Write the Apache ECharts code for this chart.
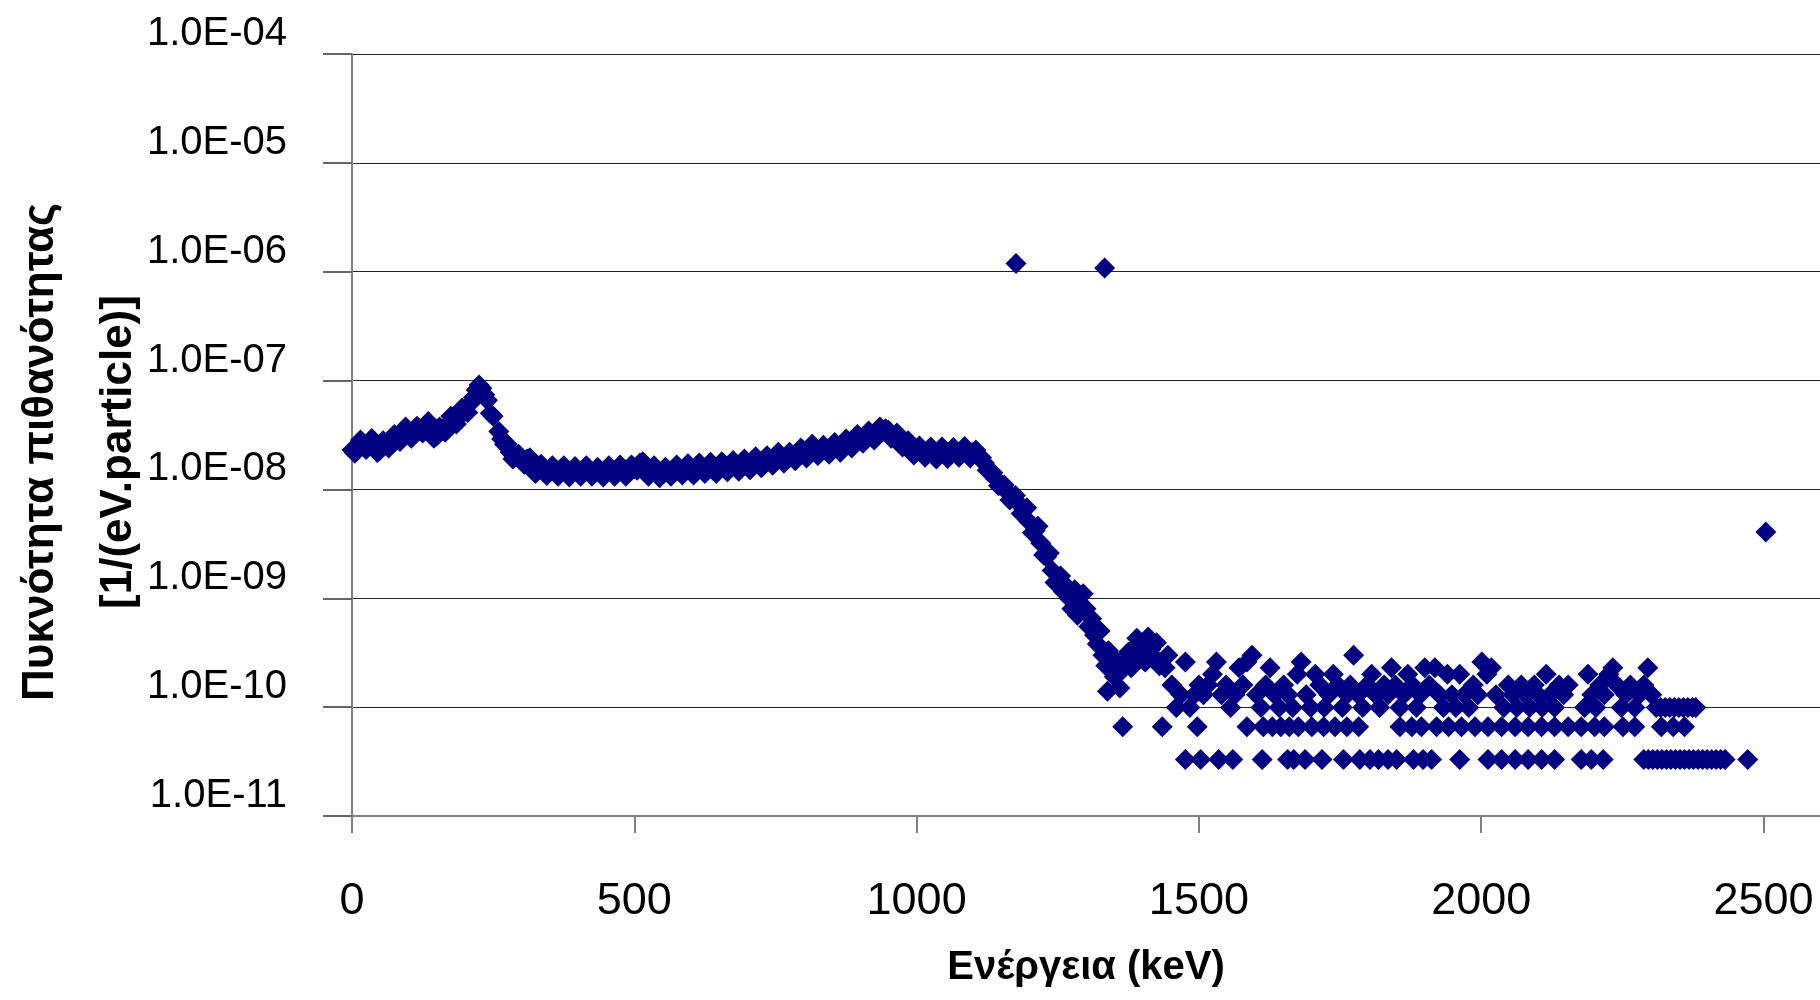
<!DOCTYPE html>
<html>
<head>
<meta charset="utf-8">
<script src="https://cdn.jsdelivr.net/npm/echarts@6/dist/echarts.min.js"></script>
<style>
html,body{margin:0;padding:0;background:#fff;}
#chart{width:1820px;height:1000px;}
</style>
</head>
<body>
<div id="chart"></div>
<script>
// continuous part of the spectrum (keV, 1/(eV.particle))
var mainEnergy = [0,5,10,20,30,40,50,60,70,80,90,100,110,120,130,140,150,160,170,180,190,200,210,220,225,230,235,240,245,250,
    260,270,280,290,300,310,320,330,340,350,360,370,380,390,400,410,420,430,440,450,460,470,480,490,500,510,520,530,540,550,
    560,570,580,590,600,610,620,630,640,650,660,670,680,690,700,710,720,730,740,750,760,770,780,790,800,810,820,830,840,850,
    860,870,880,890,900,910,920,930,940,945,950,960,970,980,990,1000,1010,1020,1030,1040,1050,1060,1070,1080,1090,1100,1110,1120,1130,1140,
    1150,1160,1170,1180,1190,1200,1210,1220,1230,1240,1250,1260,1270,1280,1285,1290,1295,1300,1305,1310,1315,1320,1325,1330,1335,1338,1340,1345,1350,1355,
    1360,1365,1370,1375,1380,1385,1390,1395,1400,1405,1410,1415,1420,1425,1430];
var mainDensity = [2.3e-8,2.15e-8,2.4e-8,2.65e-8,2.6e-8,2.6e-8,2.3e-8,2.65e-8,2.75e-8,2.95e-8,3.25e-8,3.4e-8,3.25e-8,3.5e-8,3.9e-8,3.55e-8,3.1e-8,3.55e-8,4.0e-8,4.3e-8,4.7e-8,5.2e-8,6.2e-8,8.2e-8,9.1e-8,8.5e-8,7.4e-8,6.6e-8,5.0e-8,4.7e-8,
    3.4e-8,2.6e-8,2.2e-8,2.0e-8,1.85e-8,1.9e-8,1.6e-8,1.5e-8,1.55e-8,1.45e-8,1.5e-8,1.45e-8,1.5e-8,1.4e-8,1.5e-8,1.45e-8,1.5e-8,1.45e-8,1.4e-8,1.5e-8,1.45e-8,1.5e-8,1.5e-8,1.45e-8,1.55e-8,1.75e-8,1.5e-8,1.45e-8,1.5e-8,1.38e-8,
    1.45e-8,1.5e-8,1.5e-8,1.55e-8,1.5e-8,1.55e-8,1.55e-8,1.6e-8,1.55e-8,1.6e-8,1.6e-8,1.65e-8,1.6e-8,1.7e-8,1.65e-8,1.75e-8,1.8e-8,1.75e-8,1.85e-8,1.9e-8,2.0e-8,1.9e-8,2.0e-8,2.1e-8,2.15e-8,2.2e-8,2.4e-8,2.2e-8,2.3e-8,2.4e-8,
    2.4e-8,2.5e-8,2.6e-8,2.75e-8,2.9e-8,3.05e-8,3.1e-8,3.25e-8,3.4e-8,3.6e-8,3.5e-8,3.1e-8,2.85e-8,2.6e-8,2.4e-8,2.25e-8,2.2e-8,2.25e-8,2.1e-8,2.15e-8,2.2e-8,2.1e-8,2.2e-8,2.25e-8,2.15e-8,2.2e-8,2.0e-8,1.75e-8,1.45e-8,1.25e-8,
    1.1e-8,9.5e-9,8.5e-9,7.5e-9,6.5e-9,5.0e-9,4.2e-9,3.2e-9,2.4e-9,1.8e-9,1.4e-9,1.15e-9,1.0e-9,1.2e-9,7.0e-10,9.0e-10,1.1e-9,8.0e-10,5.5e-10,6.5e-10,4.6e-10,3.8e-10,5.0e-10,3.0e-10,2.4e-10,1.4e-10,3.3e-10,2.2e-10,1.9e-10,2.6e-10,
    1.5e-10,2.2e-10,2.6e-10,3.2e-10,2.3e-10,3.5e-10,4.3e-10,2.9e-10,3.8e-10,2.6e-10,4.4e-10,3.4e-10,2.9e-10,3.9e-10,2.4e-10];

// in-between channels: the scatter that gives the band its width
var midEnergy = [15,25,35,45,55,65,75,85,95,105,115,125,135,145,155,165,175,185,195,205,215,265,275,285,295,
    305,315,325,335,345,355,365,375,385,395,405,415,425,435,445,455,465,475,485,495,505,515,525,535,545,
    555,565,575,585,595,605,615,625,635,645,655,665,675,685,695,705,715,725,735,745,755,765,775,785,795,
    805,815,825,835,845,855,865,875,885,895,905,915,925,935,955,965,975,985,995,1005,1015,1025,1035,1045,1055,
    1065,1075,1085,1095,1105,1115,1125,1135,1145,1155,1165,1175,1185,1195,1205,1215,1225,1235,1245,1255,1265,1275];
var midDensity = [2.85e-8,2.33e-8,2.94e-8,2.18e-8,2.8e-8,2.4e-8,3.2e-8,2.76e-8,3.75e-8,2.96e-8,3.8e-8,3.3e-8,4.2e-8,2.96e-8,3.75e-8,3.36e-8,4.7e-8,4.0e-8,5.6e-8,5.1e-8,7.0e-8,2.9e-8,2.6e-8,1.9e-8,2.1e-8,
    1.7e-8,1.95e-8,1.4e-8,1.7e-8,1.34e-8,1.65e-8,1.32e-8,1.65e-8,1.3e-8,1.62e-8,1.32e-8,1.65e-8,1.32e-8,1.6e-8,1.3e-8,1.65e-8,1.32e-8,1.68e-8,1.32e-8,1.68e-8,1.5e-8,1.8e-8,1.32e-8,1.65e-8,1.28e-8,
    1.6e-8,1.32e-8,1.68e-8,1.36e-8,1.72e-8,1.36e-8,1.75e-8,1.4e-8,1.78e-8,1.4e-8,1.8e-8,1.45e-8,1.84e-8,1.47e-8,1.9e-8,1.52e-8,2.0e-8,1.58e-8,2.04e-8,1.67e-8,2.2e-8,1.74e-8,2.2e-8,1.83e-8,2.4e-8,
    1.94e-8,2.6e-8,2.05e-8,2.55e-8,2.1e-8,2.7e-8,2.2e-8,2.9e-8,2.4e-8,3.2e-8,2.65e-8,3.45e-8,2.85e-8,3.75e-8,2.95e-8,3.3e-8,2.45e-8,2.8e-8,2.07e-8,2.5e-8,1.98e-8,2.45e-8,1.9e-8,2.45e-8,1.92e-8,
    2.43e-8,1.98e-8,2.48e-8,1.94e-8,2.3e-8,1.95e-8,1.5e-8,1.42e-8,1.08e-8,1.1e-8,8.0e-9,8.8e-9,6.0e-9,6.8e-9,4.0e-9,4.6e-9,2.5e-9,2.6e-9,1.4e-9,1.6e-9,1.3e-9,8.0e-10];

// high-energy tail, values come in whole counts
var tailEnergy = [1440,1445,1452,1460,1468,1476,1484,1492,1500,1508,1516,1524,1531,1540,1548,1556,1564,1571,1578,1585,
    1594,1602,1610,1618,1626,1634,1642,1650,1658,1666,1674,1681,1690,1698,1706,1714,1722,1730,1738,1746,
    1754,1762,1768,1774,1782,1790,1798,1806,1813,1820,1828,1835,1841,1848,1856,1863,1870,1878,1885,1892,
    1900,1908,1918,1926,1933,1940,1948,1955,1962,1970,1978,1986,1994,2001,2010,2018,2026,2040,2048,2056,
    2063,2071,2078,2086,2094,2101,2108,2115,2122,2130,2138,2146,2154,2183,2189,2196,2203,2210,2218,2226,
    2233,2240,2248,2256,2264,2272,2280,2288,2295,2302,2310,2318,2326,2334,2342,2350,2358,2366,2374,2380];
var tailDensity = [2.3e-10,3.0e-10,1.6e-10,9.9e-11,1.3e-10,2.6e-10,9.9e-11,1.3e-10,1.6e-10,1.3e-10,1.6e-10,2.0e-10,2.6e-10,1.3e-10,1.6e-10,9.9e-11,1.3e-10,2.3e-10,1.6e-10,2.6e-10,
    3.0e-10,1.3e-10,9.9e-11,1.6e-10,2.3e-10,1.3e-10,9.9e-11,1.6e-10,1.3e-10,9.9e-11,2.0e-10,2.6e-10,1.3e-10,9.9e-11,2.0e-10,1.6e-10,9.9e-11,1.3e-10,2.0e-10,1.6e-10,
    9.9e-11,1.3e-10,1.6e-10,3.0e-10,1.3e-10,9.9e-11,1.6e-10,2.0e-10,1.3e-10,9.9e-11,1.6e-10,1.3e-10,2.3e-10,1.6e-10,9.9e-11,1.3e-10,2.0e-10,1.6e-10,9.9e-11,1.3e-10,
    2.3e-10,1.6e-10,2.3e-10,1.3e-10,9.9e-11,2.0e-10,1.3e-10,9.9e-11,2.0e-10,1.3e-10,9.9e-11,1.6e-10,1.3e-10,2.6e-10,2.0e-10,2.3e-10,1.3e-10,9.9e-11,1.6e-10,1.3e-10,
    9.9e-11,1.6e-10,1.3e-10,9.9e-11,1.6e-10,1.3e-10,9.9e-11,2.0e-10,1.3e-10,9.9e-11,1.6e-10,1.3e-10,1.6e-10,9.9e-11,2.0e-10,1.3e-10,9.9e-11,1.6e-10,1.3e-10,2.0e-10,
    2.3e-10,1.6e-10,9.9e-11,1.3e-10,1.6e-10,9.9e-11,1.3e-10,1.6e-10,2.3e-10,1.3e-10,9.9e-11,9.9e-11,9.9e-11,9.9e-11,9.9e-11,9.9e-11,9.9e-11,9.9e-11,9.9e-11,9.9e-11];

// channels with two counts and with a single count
var twoCountEnergy = [1365,1435,1497,1585,1614,1630,1645,1660,1676,1700,1721,1741,1762,1783,1856,1877,1894,1921,1942,1965,
    1989,2012,2036,2060,2083,2107,2130,2154,2177,2201,2218,2251,2272,2319,2340,2360];
var twoCountDensity = 6.6e-11;
var oneCountEnergy = [1476,1503,1535,1560,1612,1657,1668,1688,1718,1756,1785,1803,1818,1835,1850,1880,1897,1912,1962,2012,
    2036,2060,2083,2107,2130,2177,2195,2216,2288,2296,2304,2312,2320,2328,2336,2344,2352,2360,2368,2376,
    2384,2392,2400,2408,2416,2424,2432,2472];
var oneCountDensity = 3.3e-11;

// isolated points
var outlierEnergy = [1176,1333,2504];
var outlierDensity = [1.19e-6,1.08e-6,4.07e-9];

var xTicks = [0,500,1000,1500,2000,2500];

var points = [];
mainEnergy.forEach(function(e,i){ points.push([e, mainDensity[i]]); });
midEnergy.forEach(function(e,i){ points.push([e, midDensity[i]]); });
tailEnergy.forEach(function(e,i){ points.push([e, tailDensity[i]]); });
twoCountEnergy.forEach(function(e){ points.push([e, twoCountDensity]); });
oneCountEnergy.forEach(function(e){ points.push([e, oneCountDensity]); });
outlierEnergy.forEach(function(e,i){ points.push([e, outlierDensity[i]]); });

var font = "'Liberation Sans', Arial, sans-serif";

function sciLabel(v){
    var e = Math.round(Math.log10(v));
    var a = Math.abs(e);
    return '1.0E' + (e < 0 ? '-' : '+') + (a < 10 ? '0' + a : a);
}

var chart = echarts.init(document.getElementById('chart'));
chart.setOption({
    animation: false,
    backgroundColor: '#fff',
    grid: {left: 352, top: 54, right: 0, bottom: 184, containLabel: false, outerBoundsMode: 'none'},
    xAxis: {
        type: 'value',
        min: 0, max: 2600, interval: 500,
        name: 'Ενέργεια (keV)',
        nameLocation: 'middle',
        nameGap: 132,
        nameMoveOverlap: false,
        nameTextStyle: {fontFamily: font, fontWeight: 'bold', fontSize: 40, color: '#000'},
        axisLine: {show: true, onZero: false, lineStyle: {color: '#808080', width: 2}},
        axisTick: {show: true, length: 17, lineStyle: {color: '#808080', width: 2}},
        axisLabel: {
            margin: 63, fontFamily: font, fontSize: 45, color: '#000',
            showMaxLabel: false,
            formatter: function(v){ return xTicks.indexOf(v) >= 0 ? String(v) : ''; }
        },
        splitLine: {show: false}
    },
    yAxis: {
        type: 'log',
        logBase: 10,
        min: 1e-11, max: 1e-4, interval: 1,
        name: 'Πυκνότητα πιθανότητας\n[1/(eV.particle)]',
        nameLocation: 'middle',
        nameGap: 194,
        nameMoveOverlap: false,
        nameTextStyle: {fontFamily: font, fontWeight: 'bold', fontSize: 44, lineHeight: 78, color: '#000', padding: [0, 34, 0, 0]},
        axisLine: {show: true, lineStyle: {color: '#808080', width: 2}},
        axisTick: {show: true, length: 29, lineStyle: {color: '#666', width: 2}},
        axisLabel: {
            margin: 65, fontFamily: font, fontSize: 40, color: '#000',
            verticalAlign: 'bottom', lineHeight: 40,
            formatter: sciLabel
        },
        splitLine: {show: true, lineStyle: {color: '#222', width: 1}}
    },
    series: [{
        type: 'scatter',
        symbol: 'diamond',
        symbolSize: 21,
        itemStyle: {color: '#000080', opacity: 1},
        data: points
    }]
});
</script>
</body>
</html>
